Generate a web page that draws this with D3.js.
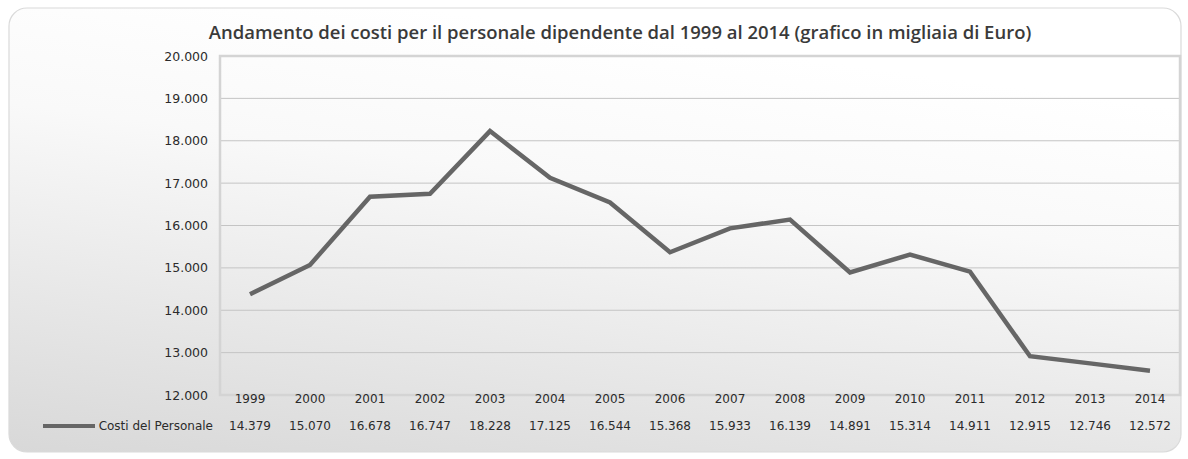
<!DOCTYPE html>
<html>
<head>
<meta charset="utf-8">
<script src="https://cdn.jsdelivr.net/npm/d3@7"></script>
<style>
  body { margin: 0; background: #fff; }
  svg { display: block; }
  .tick-label { font-family: "DejaVu Sans", sans-serif; font-size: 12.5px; fill: #2b2b2b; }
  .cell { font-family: "DejaVu Sans", sans-serif; font-size: 12px; fill: #2b2b2b; }
  .title { font-family: "Open Sans", sans-serif; font-weight: 600; fill: #3a3a3a; }
</style>
</head>
<body>
<div id="chart"></div>
<script>
// DATA
var years = ["1999", "2000", "2001", "2002", "2003", "2004", "2005", "2006",
             "2007", "2008", "2009", "2010", "2011", "2012", "2013", "2014"];
var costs = [14379, 15070, 16678, 16747, 18228, 17125, 16544, 15368,
             15933, 16139, 14891, 15314, 14911, 12915, 12746, 12572];
var yTicks = [12000, 13000, 14000, 15000, 16000, 17000, 18000, 19000, 20000];
var seriesName = "Costi del Personale";
var titleText = "Andamento dei costi per il personale dipendente dal 1999 al 2014 (grafico in migliaia di Euro)";

// SIZES
var W = 1188, H = 459;
var plot = { left: 220, right: 1180, top: 56, bottom: 395 };

// italian number format: 14.379
var it = d3.formatLocale({ decimal: ",", thousands: ".", grouping: [3], currency: ["€", ""] });
var fmt = it.format(",d");

var svg = d3.select("#chart")
  .append("svg")
  .attr("width", W)
  .attr("height", H);

// background gradient of the panel
var defs = svg.append("defs");
var grad = defs.append("linearGradient")
  .attr("id", "bg")
  .attr("x1", 0.35).attr("y1", 0)
  .attr("x2", 0).attr("y2", 1);
grad.append("stop").attr("offset", "0%").attr("stop-color", "#ffffff");
grad.append("stop").attr("offset", "30%").attr("stop-color", "#f9f9f9");
grad.append("stop").attr("offset", "100%").attr("stop-color", "#d8d8d8");

svg.append("rect")
  .attr("x", 9).attr("y", 8)
  .attr("width", 1172).attr("height", 444)
  .attr("rx", 18).attr("ry", 18)
  .attr("fill", "url(#bg)")
  .attr("stroke", "#dadada")
  .attr("stroke-width", 1.2);

// scales
var x = d3.scaleBand()
  .domain(years)
  .range([plot.left, plot.right]);

var y = d3.scaleLinear()
  .domain([12000, 20000])
  .range([plot.bottom, plot.top]);

// gridlines
svg.append("g")
  .selectAll("line")
  .data(yTicks.filter(function (d) { return d > 12000 && d < 20000; }))
  .enter()
  .append("line")
  .attr("x1", plot.left).attr("x2", plot.right)
  .attr("y1", function (d) { return y(d); })
  .attr("y2", function (d) { return y(d); })
  .attr("stroke", "#c4c4c4")
  .attr("stroke-width", 1);

// plot area border
svg.append("rect")
  .attr("x", plot.left).attr("y", plot.top)
  .attr("width", plot.right - plot.left)
  .attr("height", plot.bottom - plot.top)
  .attr("fill", "none")
  .attr("stroke", "#d4d4d4")
  .attr("stroke-width", 2.5);

// y axis labels
var yAxis = d3.axisLeft(y)
  .tickValues(yTicks)
  .tickFormat(fmt)
  .tickSize(0)
  .tickPadding(12);
var gy = svg.append("g")
  .attr("transform", "translate(" + plot.left + ",0)")
  .call(yAxis);
gy.select(".domain").remove();
gy.selectAll("text")
  .attr("class", "tick-label")
  .attr("fill", null);

// line
var line = d3.line()
  .x(function (d, i) { return x(years[i]) + x.bandwidth() / 2; })
  .y(function (d) { return y(d); });

svg.append("path")
  .datum(costs)
  .attr("d", line)
  .attr("fill", "none")
  .attr("stroke", "#666666")
  .attr("stroke-width", 4.5)
  .attr("stroke-linejoin", "miter");

// data table: years row
var gx = svg.append("g")
  .attr("transform", "translate(0," + (plot.bottom + 12) + ")")
  .call(d3.axisBottom(x).tickSize(0).tickPadding(0));
gx.select(".domain").remove();
gx.selectAll("text")
  .attr("class", "cell")
  .attr("fill", null)
  .attr("dy", "-0.3em");

// data table: values row
svg.append("g")
  .selectAll("text")
  .data(costs)
  .enter()
  .append("text")
  .attr("class", "cell")
  .attr("x", function (d, i) { return x(years[i]) + x.bandwidth() / 2; })
  .attr("y", 430)
  .attr("text-anchor", "middle")
  .text(function (d) { return fmt(d); });

// legend key in the table
svg.append("line")
  .attr("x1", 43).attr("x2", 95)
  .attr("y1", 426).attr("y2", 426)
  .attr("stroke", "#666666")
  .attr("stroke-width", 4);
svg.append("text")
  .attr("class", "cell")
  .attr("x", 213).attr("y", 430)
  .attr("text-anchor", "end")
  .text(seriesName);

// title, sized to the reference width
var title = svg.append("text")
  .attr("class", "title")
  .attr("x", 620).attr("y", 39)
  .attr("text-anchor", "middle")
  .style("font-size", "15px")
  .text(titleText);
var tw = title.node().getComputedTextLength();
title.style("font-size", (15 * 823 / tw).toFixed(2) + "px");
</script>
</body>
</html>
